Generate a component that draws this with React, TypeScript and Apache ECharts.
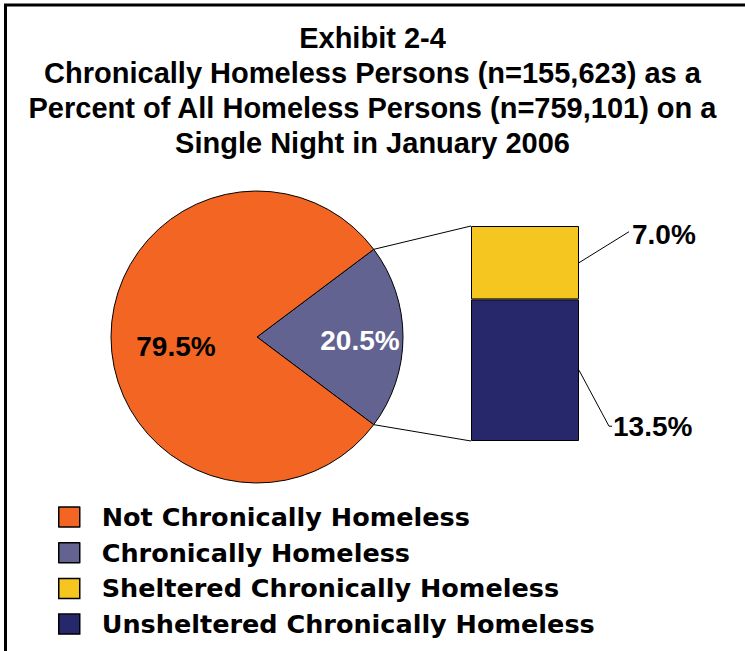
import React, { useEffect, useRef } from 'react';
import * as echarts from 'echarts';

const titleLines = [
  'Exhibit 2-4',
  'Chronically Homeless Persons (n=155,623) as a',
  'Percent of All Homeless Persons (n=759,101) on a',
  'Single Night in January 2006',
];
const pieNames = ['Chronically Homeless', 'Not Chronically Homeless'];
const pieValues = [20.5, 79.5];
const pieColors = ['#636392', '#F26522'];
const barCategories = ['Chronically Homeless'];
const barNames = ['Unsheltered Chronically Homeless', 'Sheltered Chronically Homeless'];
const barValues = [13.5, 7.0];
const barColors = ['#27276B', '#F5C520'];
const legendOrder = [
  'Not Chronically Homeless',
  'Chronically Homeless',
  'Sheltered Chronically Homeless',
  'Unsheltered Chronically Homeless',
];

const PIE_CX = 257;
const PIE_CY = 337;
const PIE_R = 146;
const GRID = { left: 471, top: 226, width: 108, height: 215 };
// label placement relative to pie centre: [dx, dy] per slice
const PIE_LABEL_POS = [
  [103, 3],
  [-81, 9],
];

export default function App() {
  const ref = useRef<HTMLDivElement>(null);

  useEffect(() => {
    if (!ref.current) return;
    const chart = echarts.init(ref.current, null, { renderer: 'svg' });
    const pieTotal = pieValues.reduce((a, b) => a + b, 0);
    const halfAngle = (pieValues[0] / pieTotal) * 360 / 2;
    const barTotal = barValues.reduce((a, b) => a + b, 0);

    chart.setOption({
      animation: false,
      backgroundColor: '#ffffff',
      title: {
        text: titleLines.join('\n'),
        left: 'center',
        top: 15,
        textStyle: {
          fontFamily: 'Liberation Sans',
          fontWeight: 'bold',
          fontSize: 29,
          lineHeight: 35,
          color: '#000',
        },
      },
      legend: {
        data: legendOrder,
        orient: 'vertical',
        left: 53,
        top: 499,
        icon: 'rect',
        itemWidth: 21,
        itemHeight: 20,
        itemGap: 9.7,
        selectedMode: false,
        itemStyle: { borderColor: '#000', borderWidth: 1.5 },
        textStyle: {
          fontFamily: 'DejaVu Sans',
          fontWeight: 'bold',
          fontSize: 25.5,
          lineHeight: 26,
          color: '#000',
          padding: [0, 0, 0, 17],
        },
      },
      grid: { left: GRID.left, top: GRID.top, width: GRID.width, height: GRID.height },
      xAxis: { type: 'category', data: barCategories, show: false },
      yAxis: { type: 'value', min: 0, max: barTotal, show: false },
      series: [
        {
          type: 'pie',
          center: [PIE_CX, PIE_CY],
          radius: PIE_R,
          startAngle: halfAngle,
          clockwise: true,
          silent: true,
          data: pieNames.map((n, i) => ({
            name: n,
            value: pieValues[i],
            itemStyle: { color: pieColors[i] },
            label: { color: i === 0 ? '#ffffff' : '#000000' },
          })),
          itemStyle: { borderColor: '#000', borderWidth: 1 },
          label: {
            show: true,
            position: 'inside',
            overflow: 'none',
            formatter: (p: any) => p.value.toFixed(1) + '%',
            fontFamily: 'Liberation Sans',
            fontWeight: 'bold',
            fontSize: 28,
          },
          labelLine: { show: false },
          labelLayout: (p: any) => ({
            x: PIE_CX + PIE_LABEL_POS[p.dataIndex][0],
            y: PIE_CY + PIE_LABEL_POS[p.dataIndex][1],
            align: 'center',
            verticalAlign: 'middle',
          }),
        },
        ...barNames.map((n, i) => ({
          type: 'bar',
          name: n,
          stack: 'chronic',
          barWidth: '100%',
          silent: true,
          data: [barValues[i]],
          itemStyle: { color: barColors[i], borderColor: '#000', borderWidth: 1 },
          label: {
            show: true,
            position: 'right',
            distance: i === 0 ? 34 : 53,
            offset: i === 0 ? [0, 56] : [0, -28],
            formatter: (p: any) => p.value.toFixed(1) + '%',
            fontFamily: 'Liberation Sans',
            fontWeight: 'bold',
            fontSize: 28,
            color: '#000',
          },
        })),
      ],
    });

    const right = GRID.left + GRID.width;
    const yTop = chart.convertToPixel({ yAxisIndex: 0 }, barTotal) as number;
    const yBottom = chart.convertToPixel({ yAxisIndex: 0 }, 0) as number;
    const yNavyMid = chart.convertToPixel({ yAxisIndex: 0 }, barValues[0] / 2) as number;
    const yYellowMid = chart.convertToPixel({ yAxisIndex: 0 }, barValues[0] + barValues[1] / 2) as number;
    const rad = (halfAngle * Math.PI) / 180;
    const pTop = [PIE_CX + PIE_R * Math.cos(rad), PIE_CY - PIE_R * Math.sin(rad)];
    const pBot = [PIE_CX + PIE_R * Math.cos(rad), PIE_CY + PIE_R * Math.sin(rad)];
    const lineStyle = { stroke: '#000', lineWidth: 1, fill: null };

    chart.setOption({
      graphic: [
        {
          type: 'rect',
          shape: { x: 5.5, y: 5, width: 800, height: 800 },
          style: { stroke: '#000', lineWidth: 3, fill: null },
          silent: true,
        },
        { type: 'line', shape: { x1: pTop[0], y1: pTop[1], x2: GRID.left, y2: yTop }, style: lineStyle, silent: true },
        { type: 'line', shape: { x1: pBot[0], y1: pBot[1], x2: GRID.left, y2: yBottom }, style: lineStyle, silent: true },
        {
          type: 'polyline',
          shape: { points: [[right, yYellowMid], [right + 50, yYellowMid - 31]] },
          style: lineStyle,
          silent: true,
        },
        {
          type: 'polyline',
          shape: { points: [[right, yNavyMid], [right + 30, yNavyMid + 56], [right + 33, yNavyMid + 56]] },
          style: lineStyle,
          silent: true,
        },
      ],
    });

    return () => chart.dispose();
  }, []);

  return (
    <div
      ref={ref}
      style={{ position: 'fixed', left: 0, top: 0, width: 745, height: 651 }}
    />
  );
}
